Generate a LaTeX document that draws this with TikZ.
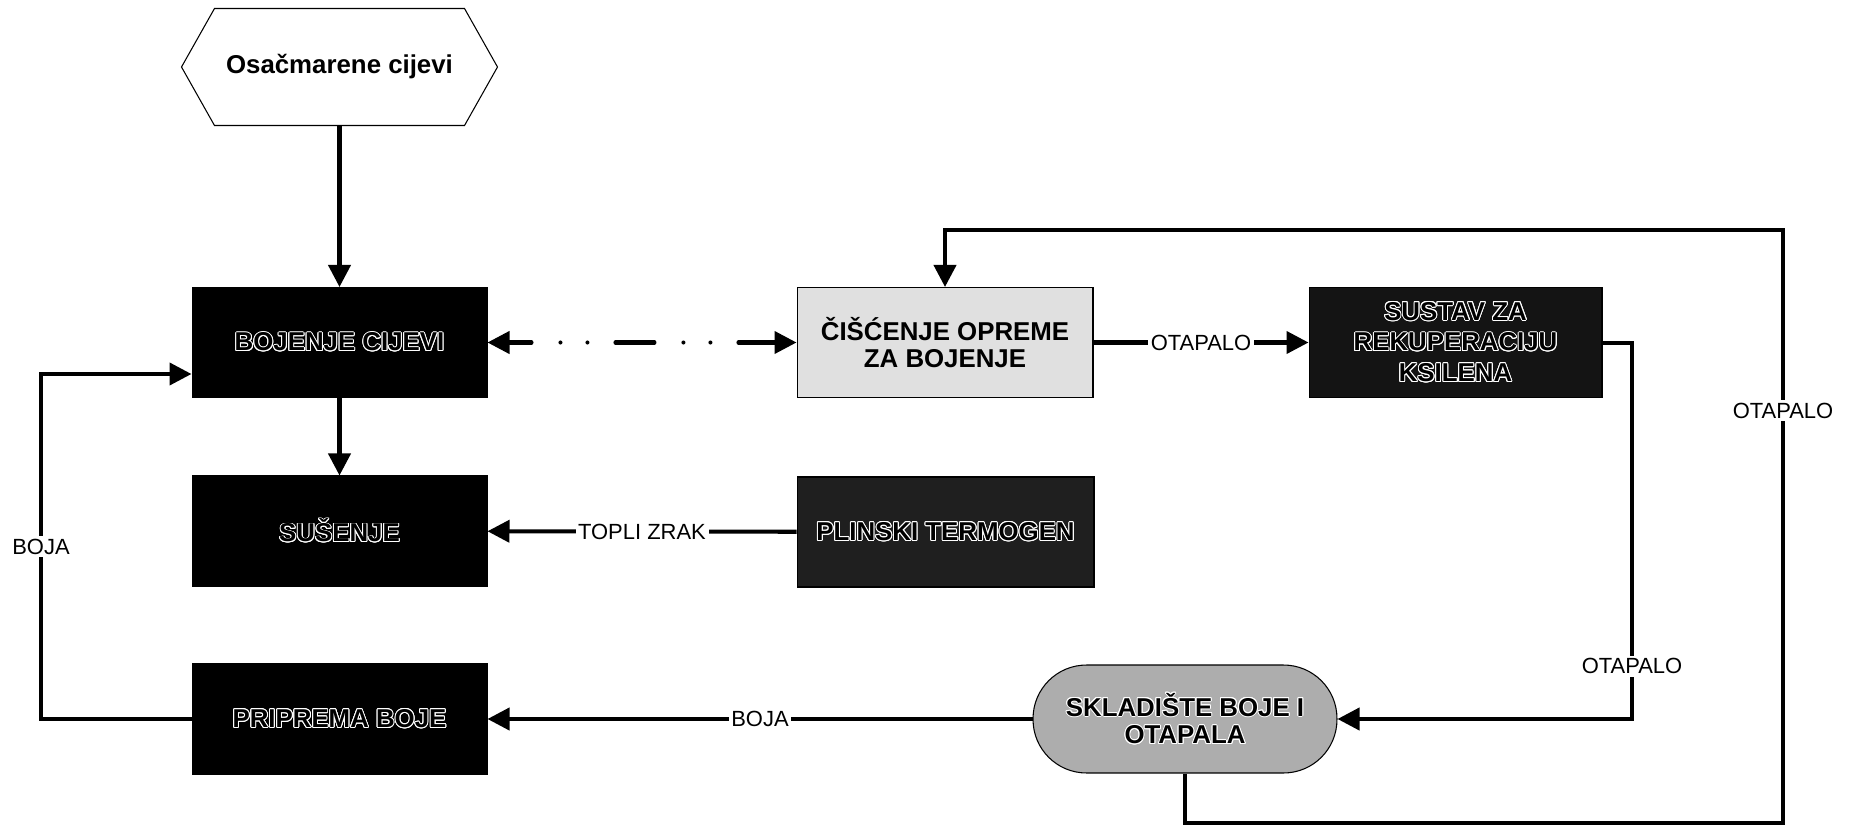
\documentclass[tikz,border=0pt]{standalone}
\usepackage{fontspec}
\setmainfont{Liberation Sans}
\usepackage{contour}
\contourlength{0.55pt}
\usetikzlibrary{arrows.meta}
\newcommand{\dk}[1]{\contour{white}{#1}}
\begin{document}
\begin{tikzpicture}[x=0.02cm,y=-0.02cm,
  box/.style={draw=black, line width=0.6pt, minimum width=5.9cm, minimum height=2.2cm,
    inner sep=0pt, align=center, font=\fontsize{14.7}{15.8}\selectfont\bfseries},
  darkbox/.style={box, fill=black},
  tip/.tip={Triangle[length=0.44cm,width=0.44cm]},
  flow/.style={line width=2.3pt, -tip},
  lbl/.style={fill=white, inner sep=1.5pt, font=\fontsize{12.5}{13}\selectfont}]

\useasboundingbox (0,0) rectangle (1852,828);

% nodes
\node[box, draw=none, minimum width=6.3cm, minimum height=2.32cm] (src) at (339.5,67) {Osačmarene cijevi};
\draw[line width=0.6pt] (src.west) -- ([xshift=0.66cm]src.north west) -- ([xshift=-0.66cm]src.north east)
  -- (src.east) -- ([xshift=-0.66cm]src.south east) -- ([xshift=0.66cm]src.south west) -- cycle;

\node[darkbox] (boj) at (339.5,342.5) {\dk{BOJENJE CIJEVI}};
\node[darkbox] (sus) at (339.5,531) {\dk{SUŠENJE}};
\node[darkbox] (pri) at (339.5,719) {\dk{PRIPREMA BOJE}};
\node[box, fill=black!12, minimum width=5.92cm] (cis) at (945,342.5) {ČIŠĆENJE OPREME\\ZA BOJENJE};
\node[darkbox, fill=black!88, minimum width=5.94cm] (pli) at (945.5,532) {\dk{PLINSKI TERMOGEN}};
\node[darkbox, fill=black!92, minimum width=5.86cm, font=\fontsize{14.7}{17.5}\selectfont\bfseries] (rek) at (1455.5,342.5) {\dk{SUSTAV ZA}\\\dk{REKUPERACIJU}\\\dk{KSILENA}};
\node[box, fill=black!32, minimum width=6.08cm, minimum height=2.16cm, rounded corners=1.07cm] (skl) at (1185,719) {\dk{SKLADIŠTE BOJE I}\\\dk{OTAPALA}};

% helper coordinates
\coordinate (bl) at (41,374);
\coordinate (r1) at (1632,343);
\coordinate (bot) at (1783,823);
\coordinate (top) at (1783,230);

% connectors
\draw[flow] (src) -- (boj);
\draw[flow] (boj) -- (sus);
\draw[line width=2.3pt, tip-tip, line cap=round,
  dash pattern=on 0.78cm off 0.58cm on 0cm off 0.54cm on 0cm off 0.56cm, dash phase=0.32cm] (boj) -- (cis);
\draw[flow] (cis) -- node[lbl]{OTAPALO} (rek);
\draw[flow] (pli) -- node[lbl]{TOPLI ZRAK} (sus);
\draw[flow] (skl) -- node[lbl]{BOJA} (pri);
\draw[flow] (pri.west) -- (pri.west -| bl) -- node[lbl]{BOJA} (bl) -- (bl -| boj.west);
\draw[flow] (rek.east |- r1) -- (r1) -- node[lbl,pos=0.86]{OTAPALO} (r1 |- skl.east) -- (skl.east);
\draw[flow] (skl.south) -- (skl.south |- bot) -- (bot) -- node[lbl,pos=0.695]{OTAPALO} (top) -- (top -| cis.north) -- (cis.north);
\end{tikzpicture}
\end{document}
